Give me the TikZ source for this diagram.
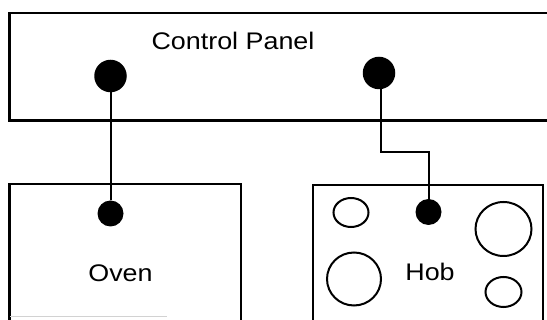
\documentclass[tikz,border=0pt]{standalone}
\usepackage{fontspec}
\setmainfont{Liberation Sans}
\begin{document}
\begin{tikzpicture}[x=1pt,y=-1pt,
  wall/.style={line width=2.2pt,line join=miter},
  wire/.style={line width=2pt},
  bigdot/.style={circle,fill=black,inner sep=0pt,minimum size=32.5pt},
  smalldot/.style={circle,fill=black,inner sep=0pt,minimum size=26pt},
  burner/.style={line width=2pt},
  lbl/.style={anchor=base,inner sep=0pt,xscale=1.12,font=\fontsize{24}{28}\selectfont}]
\useasboundingbox (0,0) rectangle (547,320);
% boxes
\draw[wall] (547,13) -- (9.5,13) -- (9.5,120.5) -- (547,120.5);
\draw[wall] (9.5,320) -- (9.5,184) -- (241,184) -- (241,320);
\draw[wall] (313,320) -- (313,185) -- (543,185) -- (543,320);
\draw[gray!35,line width=1pt] (10,317) -- (167,317);
% labels
\node[lbl] (cp) at (233,50) {Control Panel};
\node[lbl] (ov) at (120.5,281.5) {Oven};
\node[lbl] (hb) at (430,281) {Hob};
% dots
\node[bigdot] (pl) at (110.5,76) {};
\node[bigdot] (pr) at (379,73) {};
\node[smalldot] (od) at (110.5,213.5) {};
\node[smalldot] (hd) at (428.5,212) {};
% burners
\draw[burner] (351,212.5) ellipse [x radius=17.5pt, y radius=14.5pt];
\draw[burner] (503.5,229) ellipse [x radius=28pt, y radius=27pt];
\draw[burner] (354,279) ellipse [x radius=27pt, y radius=26.5pt];
\draw[burner] (503.5,292) ellipse [x radius=18pt, y radius=15pt];
% wires
\coordinate (k1) at (381,152);
\coordinate (k2) at (428.5,152);
\draw[wire] (pl) -- (od);
\draw[wire] ([xshift=2pt]pr.south) -- (k1) -- (k2) -- (hd);
\end{tikzpicture}
\end{document}
